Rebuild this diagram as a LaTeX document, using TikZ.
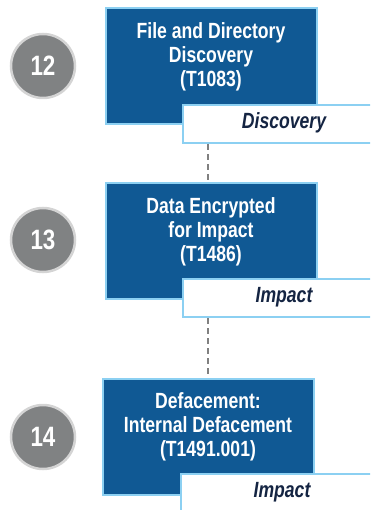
\documentclass[tikz,border=0pt]{standalone}
\usepackage{fontspec}
\setmainfont{Liberation Sans}[FakeStretch=0.8]
\definecolor{techblue}{RGB}{16,89,148}
\definecolor{edgeblue}{RGB}{140,208,242}
\definecolor{navytext}{RGB}{20,36,66}
\definecolor{circfill}{RGB}{128,130,131}
\definecolor{circedge}{RGB}{212,212,212}
\definecolor{dashgray}{RGB}{128,128,128}
\tikzset{
  techbox/.style={draw=edgeblue, fill=techblue, line width=2.2pt, minimum width=211pt, minimum height=116pt, anchor=north west, inner sep=0pt},
  techtext/.style={text=white, font=\bfseries\fontsize{22}{24}\selectfont, align=center, inner sep=0pt},
  tacticbox/.style={draw=edgeblue, fill=white, line width=2.2pt, minimum width=204pt, minimum height=38pt, anchor=north west, inner sep=0pt},
  tactictext/.style={text=navytext, font=\bfseries\itshape\fontsize{22}{24}\selectfont, inner sep=0pt},
  stepcircle/.style={circle, draw=circedge, fill=circfill, line width=2.5pt, minimum size=64pt, inner sep=0pt, text=white, font=\bfseries\fontsize{28}{30}\selectfont},
  linkline/.style={draw=dashgray, line width=2pt, dash pattern=on 6pt off 4pt}
}
\begin{document}
\begin{tikzpicture}[x=1pt,y=-1pt]
\useasboundingbox (0,0) rectangle (370,510);
\clip (0,0) rectangle (370,510);
% step 12
\node[stepcircle] (c1) at (43,66) {12};
\node[techbox] (b1) at (105,7) {};
\node[techtext] (t1) at (211,57) {File and Directory\\Discovery\\(T1083)};
\node[tacticbox] (a1) at (182,104) {};
\node[tactictext] (p1) at (284,123) {Discovery};
% step 13
\node[stepcircle] (c2) at (43,240) {13};
\node[techbox] (b2) at (105,182) {};
\node[techtext] (t2) at (211,232) {Data Encrypted\\for Impact\\(T1486)};
\node[tacticbox] (a2) at (182,278) {};
\node[tactictext] (p2) at (284,297) {Impact};
% step 14
\node[stepcircle] (c3) at (43,437) {14};
\node[techbox] (b3) at (102,378) {};
\node[techtext] (t3) at (208,427) {Defacement:\\Internal Defacement\\(T1491.001)};
\node[tacticbox] (a3) at (180,473) {};
\node[tactictext] (p3) at (282,492) {Impact};
% links
\draw[linkline] (a1.south -| 208,0) -- (b2.north -| 208,0);
\draw[linkline] (a2.south -| 208,0) -- (b3.north -| 208,0);
\end{tikzpicture}
\end{document}
